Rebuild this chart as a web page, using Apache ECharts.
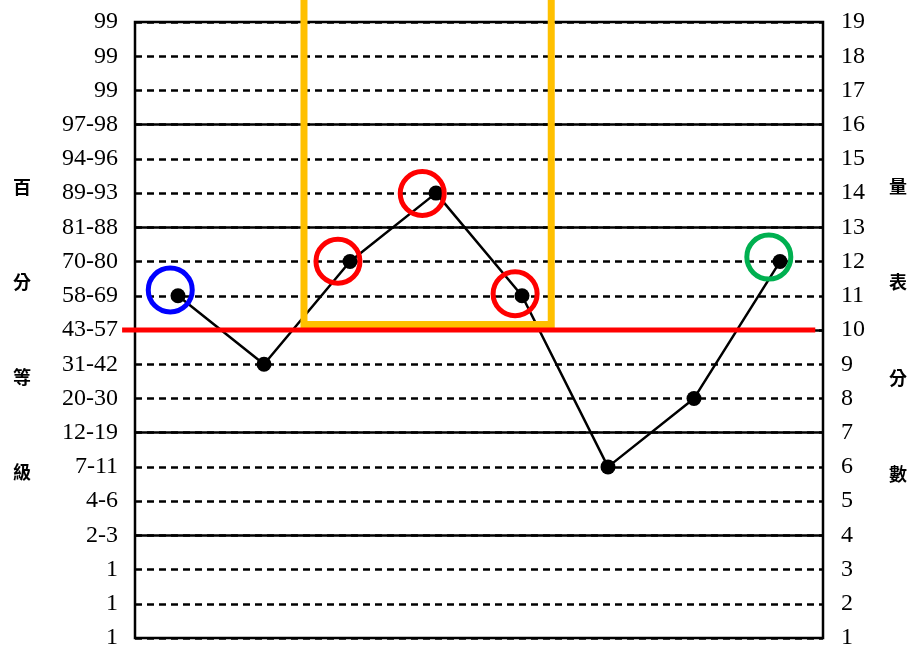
<!DOCTYPE html>
<html>
<head>
<meta charset="utf-8">
<script src="https://cdn.jsdelivr.net/npm/echarts@6/dist/echarts.min.js"></script>
<style>
  html, body { margin: 0; padding: 0; background: #fff; }
  #main { width: 912px; height: 650px; }
</style>
</head>
<body>
<div id="main"></div>
<script>
"use strict";

// subtests along the x axis (no labels shown in the original)
const subtests = ["1", "2", "3", "4", "5", "6", "7", "8"];
// scale scores
const scores = [11, 9, 12, 14, 11, 6, 8, 12];
// percentile rank label for scale scores 1..19
const percentiles = [
  "1", "1", "1", "2-3", "4-6", "7-11", "12-19", "20-30", "31-42", "43-57",
  "58-69", "70-80", "81-88", "89-93", "94-96", "97-98", "99", "99", "99",
];
// solid reference lines (others are dashed)
const solidLevels = [4, 7, 10, 13, 16];
// highlight circles: [x, y, colour]
const circles = [
  [0.41, 11.17, "#0000ff"],
  [2.36, 12.01, "#ff0000"],
  [3.34, 13.99, "#ff0000"],
  [4.42, 11.06, "#ff0000"],
  [7.37, 12.13, "#00b050"],
];
// red cut line: [xStart, xEnd, level]
const cutLine = [[-0.15, 7.91, 10]];
// yellow box: [xLeft, xRight, bottom, top]
const yellowBox = [[1.965, 4.84, 10.16, 19.8]];

let chartDom = document.getElementById("main");
let myChart = echarts.init(chartDom);

const serif = "Liberation Serif";
const cjk = "Noto Sans CJK TC";

let option = {
  animation: false,
  grid: {
    left: 135,
    right: 89,
    top: 22,
    bottom: 7,
    show: true,
    borderColor: "#000",
    borderWidth: 2.5,
  },
  xAxis: {
    type: "value",
    min: 0,
    max: subtests.length,
    show: false,
  },
  yAxis: [
    {
      type: "value",
      min: 1,
      max: 19,
      interval: 1,
      position: "left",
      name: "百\n分\n等\n級",
      nameLocation: "middle",
      nameRotate: 0,
      nameGap: 104,
      nameTextStyle: {
        fontFamily: cjk,
        fontSize: 18,
        fontWeight: "bold",
        color: "#000",
        lineHeight: 95,
      },
      axisLine: { show: false },
      axisTick: { show: false },
      axisLabel: {
        margin: 17,
        fontFamily: serif,
        fontSize: 24,
        color: "#000",
        padding: [4, 0, 0, 0],
        formatter: (v) => percentiles[v - 1],
      },
      splitLine: {
        show: true,
        lineStyle: { color: "#000", width: 2.5, type: [7, 5] },
      },
    },
    {
      type: "value",
      min: 1,
      max: 19,
      interval: 1,
      position: "right",
      name: "量\n表\n分\n數",
      nameLocation: "middle",
      nameRotate: 0,
      nameGap: 66,
      nameTextStyle: {
        fontFamily: cjk,
        fontSize: 18,
        fontWeight: "bold",
        color: "#000",
        lineHeight: 96,
      },
      axisLine: { show: false },
      axisTick: { show: false },
      axisLabel: {
        margin: 18,
        fontFamily: serif,
        fontSize: 24,
        color: "#000",
        padding: [4, 0, 0, 0],
      },
      splitLine: { show: false },
    },
  ],
  series: [
    {
      name: "scores",
      type: "line",
      data: scores.map((s, i) => [i + 0.5, s]),
      symbol: "circle",
      symbolSize: 15,
      itemStyle: { color: "#000" },
      lineStyle: { color: "#000", width: 2.5 },
      z: 3,
      markLine: {
        silent: true,
        symbol: "none",
        label: { show: false },
        lineStyle: { color: "#000", width: 2.5, type: "solid" },
        data: solidLevels.map((v) => ({ yAxis: v })),
      },
    },
    {
      name: "box",
      type: "custom",
      z: 5,
      clip: false,
      data: yellowBox,
      renderItem: (params, api) => {
        const bl = api.coord([api.value(0), api.value(2)]);
        const br = api.coord([api.value(1), api.value(2)]);
        const tl = api.coord([api.value(0), api.value(3)]);
        const tr = api.coord([api.value(1), api.value(3)]);
        return {
          type: "polyline",
          shape: { points: [tl, bl, br, tr] },
          style: { stroke: "#ffc000", lineWidth: 7, fill: null },
        };
      },
    },
    {
      name: "cut",
      type: "custom",
      z: 6,
      clip: false,
      data: cutLine,
      renderItem: (params, api) => {
        const a = api.coord([api.value(0), api.value(2)]);
        const b = api.coord([api.value(1), api.value(2)]);
        return {
          type: "line",
          shape: { x1: a[0], y1: a[1], x2: b[0], y2: b[1] },
          style: { stroke: "#ff0000", lineWidth: 5 },
        };
      },
    },
    {
      name: "circles",
      type: "scatter",
      z: 7,
      data: circles.map((c) => ({
        value: [c[0], c[1]],
        itemStyle: {
          color: "rgba(0,0,0,0)",
          borderColor: c[2],
          borderWidth: 5,
          opacity: 1,
        },
      })),
      symbol: "circle",
      symbolSize: 44,
    },
  ],
};

option && myChart.setOption(option);
</script>
</body>
</html>
